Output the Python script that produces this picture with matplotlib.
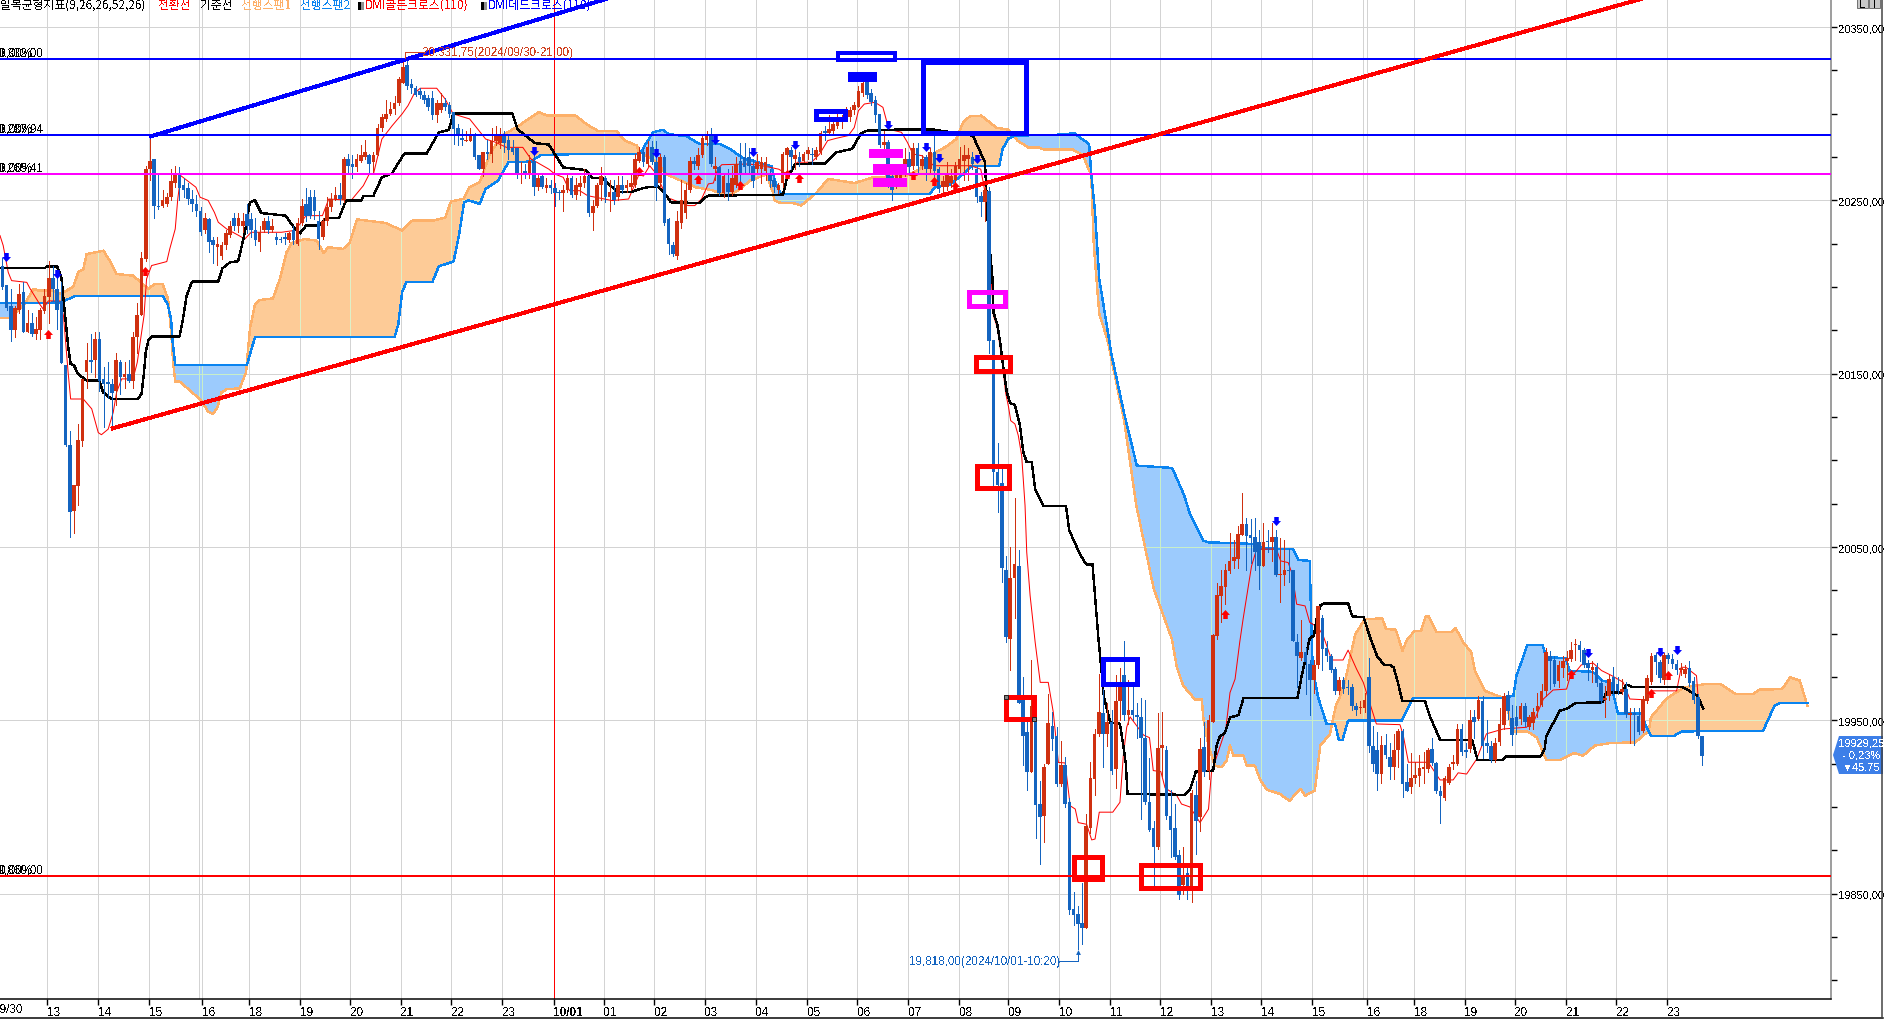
import numpy as np
import matplotlib
matplotlib.use("Agg")
import matplotlib.pyplot as plt
from matplotlib.patches import Rectangle, Polygon
from matplotlib.lines import Line2D
from matplotlib.path import Path
from matplotlib.ticker import FuncFormatter

opens = [20212,20201,20189,20175,20187,20197,20174,20179,20173,20175,
20186,20194,20205,20199,20192,20155,20109,20071,20085,20111,
20151,20158,20158,20170,20147,20145,20144,20140,20157,20148,
20150,20146,20171,20184,20216,20268,20274,20247,20247,20248,
20252,20260,20266,20259,20257,20251,20248,20244,20233,20239,
20227,20223,20218,20224,20230,20240,20235,20235,20242,20239,
20233,20226,20233,20238,20233,20229,20228,20229,20227,20233,
20225,20237,20248,20252,20252,20238,20229,20238,20246,20251,
20253,20250,20274,20271,20269,20273,20275,20276,20272,20276,
20292,20297,20300,20303,20306,20318,20328,20317,20315,20313,
20311,20309,20309,20299,20302,20306,20305,20301,20292,20286,
20284,20284,20288,20276,20268,20278,20277,20284,20283,20288,
20285,20280,20280,20265,20267,20265,20273,20258,20264,20257,
20259,20257,20255,20254,20256,20263,20253,20258,20260,20264,
20243,20247,20259,20263,20252,20255,20252,20259,20257,20258,
20259,20273,20278,20271,20281,20272,20260,20275,20239,20224,
20218,20237,20243,20256,20273,20270,20276,20285,20288,20268,
20269,20254,20260,20255,20259,20273,20275,20275,20270,20268,
20268,20267,20266,20262,20256,20260,20276,20279,20274,20275,
20273,20277,20277,20275,20278,20290,20289,20290,20293,20295,
20297,20298,20302,20304,20312,20322,20312,20308,20300,20282,
20283.5,20264,20262,20263,20266,20274,20270,20280,20270,20275,
20268,20278,20268,20257.6,20258,20260,20262,20268,20273,20274,
20275,20268,20252.6,20249,20255.6,20169.5,20093,20087,20037,19997,
20032,20039,19964,19943,19920,19950,19902,19895,19925,19947,
19941,19913,19924,19903,19841,19838,19833,19830,19888,19916,
19942,19954,19942,19949,19922,19961,19976,19953,19956,19953,
19952,19940,19903,19888,19877,19934,19933,19895,19888,19872,
19855,19862,19852,19907,19894,19934.5,19921,19949,19998.5,20022,
20027,20036,20042,20043,20057,20063,20057,20055.5,20052.7,20039,
20053.5,20053,20055.5,20034,20034,20037,20036.5,19995,19986,19989.5,
19982.5,19973,19982,20009,19991.5,19987,19979.6,19967,19973,19969.5,
19969,19958,19957,19957,19975,19935,19933,19919,19936,19929,
19923,19933,19943.6,19914.3,19911.8,19917,19917.7,19922,19922,19933.5,
19925.4,19909,19905,19914,19925,19925,19945,19933,19933.5,19951.8,
19951,19961.4,19937,19935,19927,19937.7,19947.3,19964.6,19951.4,19951.8,
19950.8,19958.5,19946,19948.5,19955.6,19959,19966.8,19987,19985,19972.5,
19980,19984.5,19985.4,19993.5,19993.5,19990.8,19983,19979.3,19980.6,19971.6,
19962,19964,19974.8,19971,19966.5,19968,19953,19954,19952.7,19944,
19961.4,19972,19987.7,19983.5,19973,19987.7,19985.4,19982.5,19979.3,19977,
19980,19972.5,19963.3,19940.8]

highs = [20217,20201,20199,20189,20202,20203,20187,20185,20183,20188,
20199,20215,20212,20208,20203,20155,20117,20086,20121,20147,
20168,20173,20174,20174,20154,20157,20147,20162,20158,20157,
20158,20174,20191,20220,20270,20287,20274,20266,20256,20254,
20268,20270,20269,20263,20260,20256,20253,20246,20243,20240,
20229,20229,20226,20233,20238,20243,20243,20243,20248,20243,
20240,20235,20240,20241,20239,20231,20229,20231,20232,20235,
20240,20251,20257,20256,20256,20244,20240,20252,20254,20258,
20260,20275,20277,20276,20277,20282,20285,20277,20278,20294,
20300,20308,20307,20310,20321,20332,20331.75,20320,20316,20315,
20313,20311,20313,20308,20312,20309,20307,20301,20294,20291,
20290,20292,20289,20276,20278,20285,20292,20293,20292,20290,
20287,20285,20280,20272,20271,20276,20276,20266,20266,20263,
20262,20260,20256,20259,20265,20264,20263,20264,20268,20265,
20250,20260,20269,20264,20262,20262,20264,20264,20262,20265,
20277,20281,20280,20284,20284,20284,20277,20276,20240,20226,
20244,20262,20260,20275,20275,20280,20288,20290,20292,20275,
20270,20266,20268,20270,20275,20283,20283,20280,20274,20277,
20275,20275,20268,20263,20260,20278,20281,20281,20279,20278,
20278,20281,20280,20281,20290,20293,20299,20298,20300,20299,
20304,20304,20307,20316,20322,20323.5,20314,20310,20300,20290,
20285,20266,20270,20270,20280,20278,20283,20283,20276,20276,
20280,20290,20269,20264,20272,20268,20272,20281,20282,20280,
20278,20270,20255,20258,20258,20169.5,20110,20095,20045,20050,
20078,20048,19975,19950,19985,19952,19915,19925,19965,19955,
19946,19938,19929,19905,19851,19843,19856,19896,19926,19945,
19977,19968,19960,19956,19976,19980,19996,19973,19972,19960,
19963,19962,19928,19892,19954,19955,19935,19910,19902,19875,
19877,19865,19910,19915,19940,19949,19953,20000,20029,20037,
20040,20058,20054,20062,20081,20067,20066,20067,20060,20064,
20060,20064,20060,20055,20054,20049,20037,20000,20008,19992,
19985,19985,20016,20011,19996,19988,19981,19975,19975,19973,
19971,19960,19961,19966,19986,19947,19943,19941,19942,19937,
19942,19945,19945,19925,19931,19926,19930,19932,19934,19940,
19926,19912,19918,19925,19930,19948,19948,19937,19956,19956,
19964,19964,19950,19938,19940,19957,19966,19967,19959,19958,
19960,19960,19953,19957,19966,19971,19992,19990,19987,19984,
19987,19990,19995,19997,19996,19992,19985,19984,19983,19974,
19970,19976,19981,19975,19974,19972,19957,19957,19957,19964,
19976,19989,19989,19985,19989,19989,19988,19985,19983,19982,
19984,19975,19965,19941]

lows = [20199,20187,20169,20171,20185,20174,20174,20172,20170,20170,
20185,20179,20192,20176,20156,20108,20056,20058,20074,20108,
20142,20151,20148,20140,20119,20136,20120,20132,20138,20142,
20145,20142,20162,20184,20215,20262,20240,20245,20246,20247,
20250,20258,20250,20252,20248,20244,20241,20230,20231,20220,
20214,20213,20216,20222,20229,20233,20232,20232,20231,20229,
20224,20221,20232,20231,20232,20225,20226,20225,20226,20225,
20224,20236,20238,20240,20239,20222,20228,20236,20244,20250,
20248,20249,20266,20263,20267,20272,20274,20266,20266,20276,
20290,20296,20299,20300,20305,20318,20314,20312,20310,20309,
20306,20302,20297,20295,20301,20302,20298,20282.5,20282,20282,
20284,20284,20274,20268,20264,20274,20272,20282,20280,20278,
20274,20277,20263,20260,20263,20263,20253,20256,20257,20255,
20254,20247,20251,20244,20255,20252,20251,20253,20258,20241,
20233,20246,20250,20249,20244,20248,20250,20254,20255,20256,
20258,20272,20270,20270,20271,20250,20258,20236,20219,20218,
20216,20234,20240,20255,20268,20268,20275,20282,20270,20262,
20253,20252,20250,20253,20258,20260,20265,20265,20258,20266,
20260,20262,20258,20255,20254,20258,20265,20268,20268,20270,
20272,20274,20271,20274,20277,20285,20288,20289,20292,20292,
20296,20296,20300,20304,20310,20309,20305,20295,20281,20279,
20258,20250,20257,20260,20264,20266,20268,20266,20268,20262,
20266,20263,20255,20255,20256,20258,20258,20266,20262,20262,
20268,20249,20241,20238,20162,20086,20070,20030,19995,19979,
20009,19960,19924,19910,19920,19882,19867,19880,19925,19933,
19912,19912,19900,19838,19832,19818,19821,19830,19885,19907,
19941,19923,19935,19919,19911,19950,19950,19948,19950,19940,
19893,19902,19886,19855,19876,19918,19893,19871,19870,19847,
19850,19847,19845,19873,19886,19918,19916,19949,19997,20007,
20017,20035,20038,20038,20057,20037,20041,20037,20026,20039,
20047,20042,20033,20018,20028,20030,19996,19969,19985,19965,
19953,19966,19980,19979,19984,19978,19965,19965,19966,19965,
19956,19953,19954,19955,19932,19921,19910,19914,19928,19916,
19916,19923,19906,19909,19908,19914,19912,19914,19920,19924,
19908,19891,19904,19913,19922,19924,19930,19929,19932,19940,
19950,19928,19932,19926,19926,19936,19945,19951,19936,19942,
19948,19947,19945,19945,19952,19958,19964,19968,19970,19969,
19975,19973,19984,19985,19984,19981,19973,19972,19970,19960,
19952,19962,19965,19965,19965,19952,19937,19936,19942,19943,
19960,19971,19977,19972,19971,19983,19980,19977,19976,19975,
19970,19960,19940,19924]

closes = [20200,20188,20175,20188,20196,20174,20179,20173,20176,20187,
20195,20205,20199,20187,20156,20109,20070,20086,20112,20147,
20158,20157,20170,20146,20144,20144,20139,20158,20148,20150,
20146,20171,20184,20217,20268,20273,20247,20246,20250,20252,
20261,20266,20257,20256,20251,20248,20244,20232,20240,20226,
20224,20225,20224,20231,20235,20235,20240,20238,20235,20233,
20227,20232,20238,20233,20235,20227,20227,20228,20231,20227,
20237,20247,20241,20241,20244,20228,20238,20246,20251,20253,
20251,20274,20270,20269,20274,20276,20278,20271,20276,20292,
20298,20300,20303,20306,20320,20327,20316,20315,20311,20311,
20308,20304,20299,20306,20306,20304,20300,20291,20287,20285,
20285,20288,20275,20268,20278,20277,20284,20287,20287,20283,
20279,20278,20266,20266,20265,20273,20258,20263,20258,20259,
20257,20254,20254,20256,20263,20253,20259,20260,20264,20243,
20247,20259,20264,20252,20255,20250,20259,20256,20259,20260,
20274,20278,20272,20281,20272,20258,20275,20237,20225,20219,
20238,20250,20256,20273,20271,20276,20286,20288,20271,20270,
20254,20264,20255,20263,20271,20265,20269,20270,20261,20272,
20272,20272,20261,20258,20259,20277,20280,20275,20276,20272,
20277,20279,20276,20279,20289,20289,20291,20294,20295,20297,
20300,20302,20305,20313,20318,20311,20307,20299,20282,20283.5,
20262,20256,20266,20268,20274,20269,20280,20270,20274,20268,
20278,20267,20256.6,20261,20265,20264,20270,20274,20276,20276,
20271,20252,20249,20256,20169,20093,20086,20038,19998,20032,
20040,19960,19941,19920,19958,19901,19894,19923,19948.5,19939,
19913,19924,19902,19840.7,19837.7,19832.5,19830,19889,19916.5,19942,
19954.6,19942,19949,19921,19961,19970,19953,19956,19953,19952,
19940,19903,19887,19877,19934,19936,19895,19887,19871,19849,
19861,19852,19908,19892,19933.5,19920,19950,19999,20022.3,20027.3,
20037,20042,20044,20057.5,20063,20056.5,20055,20047,20039,20053,
20052.7,20055.5,20034,20034.5,20037,20036,19996,19987,19989.5,19983.5,
19973.5,19982,20016,19991,19987,19979,19966.7,19973,19968,19968.5,
19958,19956,19957.5,19962,19935,19925,19919,19936,19930,19923,
19933,19943.6,19913,19909.5,19916.6,19918.5,19922.5,19923,19933,19925.4,
19909,19906.6,19916.6,19923,19926,19945,19931.6,19932,19950,19949,
19961.8,19935,19935,19927,19937,19948,19964,19955.6,19941.8,19947,
19958,19949,19951.8,19954.6,19958,19967,19989.7,19984.5,19971,19982,
19984.5,19985.8,19990.8,19994,19990.8,19982,19980,19980.6,19971.6,19961.4,
19963,19974,19967,19967,19968,19953.7,19954,19953,19943.5,19962.3,
19974.3,19987.3,19983.5,19974.3,19987.7,19985.4,19982.5,19979.3,19980,19979.6,
19971.6,19961.8,19940.8,19929.25]

span2_x = [0.45,15,16.3,18.5,39,40.2,41,41.4,42,59,60.9,94,94.9,95.8,96.8,103,104.5,108,109.4,110.5,111.6,114.2,115.6,118.5,121,126.3,128.7,138.9,152.2,153.8,155.3,157.7,158.9,163.2,166.4,171.1,173.5,176.7,183.4,184.2,185.4,186.1,220.9,222.1,225.6,228.4,231,237.4,238.2,239.6,241.3,253,255,258.7,259.2,260.1,261.1,264,267,270,278.4,281.2,282.6,285.8,287,298.8,299.6,307.1,308.3,311,311.3,311.7,313,315,317,317.9,318.8,320.1,330,332.8,335.5,356.6,359.3,360,361.6,362.6,366.2,367.1,371.7,372.6,378.1,380.4,382.3,384.1,389.6,390.5,391.9,397.4,399.2,418.5,421.2,422.6,429]
span2_y = [20190.8,20191,20192.7,20195,20195,20190,20181.6,20168,20155,20155,20171,20171,20178.7,20197,20203,20203,20212,20214.7,20231.6,20249,20250,20248,20256.6,20261.4,20272,20272.4,20276.2,20276.8,20276.8,20283.5,20289.3,20290.8,20288.3,20287,20282.5,20282.5,20279.7,20274.3,20269.7,20261,20254.7,20253.7,20253.7,20257.6,20258.9,20264.3,20270,20270,20279.7,20285.8,20287.4,20288,20289,20282.5,20265,20243,20204.7,20161,20127,20097,20095.6,20080,20069,20053.6,20052.7,20051.7,20049.2,20048.8,20042.5,20042,20012.3,19979.6,19963.2,19947.9,19947.9,19938.8,19938.8,19949.8,19949.8,19949.8,19962.9,19962.9,19964.2,19975.7,19986.3,19993.6,19993.6,19986.3,19986,19978.6,19978,19972.9,19971.9,19954,19954,19947.9,19941.1,19941.1,19943.6,19944,19958.4,19960,19960]

span1_x = [0.45,2.7,4.5,6.4,8.4,9.5,13.1,14.7,17.8,19,20.2,21,25,26.5,28.1,32,35.6,37.2,39,40.3,41.1,41.5,42,43.1,48.2,49.8,51,52,53,54.2,57.3,58.8,59.7,60.9,62.1,65.2,66.8,68.4,69.6,72.7,75.5,77.2,78.3,81.8,83.4,85.1,91.9,95.8,98.2,103,106,107.4,110.3,111.8,114.2,116.6,119.5,123.4,128.2,130.2,136.9,139.8,142.3,146.6,148.6,151.5,151.8,156.1,158.5,161.9,165.3,169.1,173,175.4,178.3,182.2,183.7,184.1,185.6,188.5,190.4,194,196.8,203.1,207.5,215.4,218.5,221.7,224.9,227.2,228.8,230.4,233.1,236.7,239.5,241.7,244.2,246.6,248,254.8,257.2,259.2,259.8,261.1,263,267,269.8,274,278.3,279.5,281,283.8,285.4,285.8,287,288.5,290.1,291.3,292.1,292.9,295.3,296,298,299.2,300.8,303.9,306.2,308.8,309.9,312.2,313.5,315.8,316.5,317.2,318.1,319.5,321.8,324.1,328.2,329.1,331.4,333,334.1,336,337.4,338.5,339.2,341,344.7,345.6,347.4,349.3,350.2,352.5,356.6,358,358.9,362.6,364.8,367.1,370.3,373.6,375.8,378.6,382.3,388.2,391.4,391.9,394.2,395.5,399.7,404.7,408.4,412,416.2,417.6,423,424.9,427.2,429]
span1_y = [20182,20182,20186,20190.8,20199,20198,20198,20196,20200,20208.5,20210.4,20219,20221,20215,20207.5,20206.6,20199,20201.8,20201.8,20193,20172,20156.6,20145.4,20145.4,20134.5,20128,20126.8,20130.6,20139.3,20141,20141.6,20150.8,20175.8,20190,20192.5,20193.5,20204.7,20220,20225.4,20227.7,20226.8,20219.7,20223,20222,20225.8,20239,20237,20232.6,20238.3,20238.3,20240,20249.5,20250.8,20257.6,20260.4,20276.8,20287.4,20293,20301,20298.9,20298.9,20293.5,20290,20290,20284.5,20281.6,20278.7,20272,20265,20261.4,20257.6,20256,20252.7,20255.6,20261.4,20265,20254.7,20249.9,20248.5,20248.5,20247,20254.3,20262.4,20260,20263.3,20264.3,20268,20276.8,20281.2,20285.4,20295,20298.5,20298.9,20292,20290.8,20284.5,20280.6,20280.6,20279.3,20279.3,20276.2,20264.3,20224,20184.5,20170,20123,20075,20026,19997,19980.6,19970,19962,19962,19950.7,19935.4,19923.8,19923,19926.7,19935.4,19929.6,19929.6,19924,19923.8,19916,19910,19907.5,19903.6,19910.4,19906.5,19909.4,19935.4,19942,19950.7,19958.4,19963.2,19973.8,19999.8,20008.4,20008.8,20002.7,20002.3,19990.2,19996.9,20001.7,20001.7,20010,20010,20001,20001,20003.2,19995,19989.2,19978.6,19967,19963.2,19956.5,19943.6,19943.6,19940.2,19927.1,19927.1,19931.1,19929.6,19935.4,19936.9,19937.3,19944,19951.7,19958.4,19962.3,19969,19970.9,19970.9,19965.2,19965.2,19967.7,19968,19974.8,19972.9,19958.4]

kijun_x = [0.45,11.1,11.5,14,15,15.9,16.6,17.2,18,19,21,24,24.9,26.9,33.2,34,34.6,35,35.6,36.4,43,43.7,44.7,45.9,46.3,52.2,53.2,55,56.9,57.7,58.5,59.7,60.9,62.4,68.2,70.1,71.6,73,76,77.9,80.8,82.5,86.1,86.6,89,91,93.4,96.3,101.6,104.5,106.9,107.9,121.9,123.2,127.3,130.6,134,139.4,140.8,143.2,144.2,147.1,150,152.2,153.8,156.5,158.5,159.5,166.2,168.2,186.1,187,189,196.2,198.7,202.5,204.5,205.9,212.7,221.9,231.1,234,234.7,235.4,235.8,236,236.9,237.6,238.5,239.2,240,241.1,242.3,243.1,243.9,245.1,245.9,247.9,253.2,254,256.5,258,259.5,260.9,261.9,262.2,263.7,266,266.8,267.4,267.8,281.4,282.6,284,288.1,288.9,289.7,290.9,292.1,294.1,295.3,308.1,309.1,309.9,311,312,312.6,313.6,314.4,320.1,321.1,323.8,325.3,327.1,328.8,330,330.9,331.9,332.95,338.3,339.6,341.9,349.5,350.8,356.6,357.5,365.8,366.7,367.1,370.3,372.2,374,380.4,381.3,385,386.1,387.3,399.2,401,402.9,404.3]
kijun_y = [20211,20211,20211.8,20211.8,20205.6,20183.5,20166,20155.6,20154.7,20149.8,20146,20146,20139.3,20135.4,20135.4,20138.3,20150.8,20162.3,20169,20171.4,20171.4,20179.7,20195,20202.7,20203.3,20203.3,20210.8,20214.3,20214.9,20223,20231.6,20249,20250,20242.7,20241.2,20234.5,20231,20235.4,20235.4,20239.7,20239.7,20250,20250,20252.4,20252.7,20263.3,20265.6,20277,20277,20289.3,20290.6,20300.2,20300.2,20291,20283,20282.2,20269,20267.5,20263,20263,20260.5,20254.7,20254.7,20256.6,20257.5,20258,20252.7,20248.9,20248.5,20252.7,20253.3,20262.4,20271,20271.4,20277.7,20279.7,20288.3,20290.2,20290.8,20290.8,20287.4,20272,20235.4,20215,20204.6,20185.4,20178.7,20168,20150.8,20139,20133,20132,20120,20104.6,20098.9,20098.9,20083.5,20073.5,20073.5,20059.5,20046,20040,20040,19997,19972,19963.2,19948.8,19948,19935.4,19924.8,19907.5,19907,19910,19920.4,19921,19935.4,19940.7,19942.7,19951.7,19953,19962.9,19962.9,19975.7,19984.4,19997.5,19998.8,20008.4,20016.5,20017.5,20017.5,20010,20009.4,19997.9,19986.3,19981.9,19981.9,19980.6,19971.9,19961.3,19961.3,19951.7,19938.8,19938.8,19927,19927,19929.2,19929.2,19933.4,19941,19955.5,19957,19960,19960.4,19966,19966,19970.6,19969.4,19969.4,19967,19964.2,19956.9]

tenkan_x = [0.45,1.2,2.4,3.2,6.8,7.6,9.9,10.7,11.9,14.7,15.5,16.6,17.2,20.2,22.2,23.75,24.5,26.1,27.3,28.1,29.3,32,33,34.6,35.2,36.4,40,40.7,42,42.6,43.3,46.9,47.9,49.8,51.3,52.2,54.2,57.1,58.5,60,67.2,70.1,71.6,73,76.9,78.4,83.7,86.6,88,89,91,93.4,95.8,97.2,98.7,100.1,104,106,107.9,111.8,115.6,118,120.5,124.4,126.3,130.6,132,134,135.5,137.9,139.8,145.6,149.5,152,153,154.5,156.1,158.5,163.6,165.2,166.8,168.4,169.6,170.6,171.6,177.9,181.2,185.1,186.6,188.5,189.5,192.9,194.8,196.7,198.7,201.6,203,204,205.4,207.9,209.8,211.2,214.2,215.6,216.9,219,221.9,230.6,233,234.3,234.7,236,236.9,238,238.9,239.6,240.1,241.1,241.9,242.7,243.5,243.9,244.7,245.9,247.1,249,250.2,251.4,253,254.2,255.4,256.1,258.1,259.3,260.1,261.1,264.3,266,266.8,267.6,268.4,271.6,273,273.9,275.7,276.7,279.5,280.6,282.6,285,287,287.7,291.1,292.1,293.3,294.4,295.2,296.4,297.2,298.4,303.1,304.1,305.9,306.7,307.5,307.9,309.9,311,313,314.2,316.2,318.9,320.1,322.1,323.7,325.7,326.8,332.4,333.2,334.4,339.1,341.9,345,346.2,348.2,350.6,352.9,356.9,362.4,364.4,366.4,368.7,371.9,372.7,374.3,375.4,378.2,380.2,382.6,385.3,386.9,390.8,392,398,399.1,400.2,402.7,403.1]
tenkan_y = [20229.7,20224,20208.5,20203.7,20202.7,20199,20190,20187.3,20192,20192,20183.5,20150.8,20135.4,20135.4,20129.7,20116,20114.8,20118,20127.7,20139.3,20147,20147,20156.6,20183.5,20204.7,20212.4,20214.7,20222,20233.5,20250.8,20264.3,20257.6,20251.8,20250,20243,20237.4,20233.5,20229.7,20227.7,20231.6,20231.6,20232.6,20236.4,20241.2,20241.2,20250.8,20250,20258.5,20265.2,20265.2,20285.4,20293,20299.9,20304.7,20311.8,20314.7,20314.7,20308.5,20299.9,20297,20285.4,20283.5,20280.6,20280.6,20274,20268,20265.2,20263.3,20255.6,20255.6,20252.7,20249.9,20250.8,20265.2,20264,20270,20265.2,20251.8,20247,20247,20250.8,20259.5,20260,20268,20270.6,20271,20270,20268,20265.8,20268,20272,20272,20276.8,20284.5,20285.8,20287.4,20292,20301.8,20305.6,20306.6,20303.7,20291,20289.3,20283.5,20276.8,20275.8,20270,20270,20268,20250.8,20235.4,20183.5,20176.8,20158.5,20139,20130.6,20122.9,20121,20114.3,20102.7,20073.9,20047,20022,19995,19971.9,19971.9,19954.6,19925.7,19925.4,19900.7,19898.8,19891,19890,19881,19881.5,19897,19897,19902.7,19929.6,19946,19952,19941.5,19940,19921,19920.4,19911,19906.5,19901.7,19900,19891,19898.8,19920,19945,19966,19973.8,19995,20008.4,20026.7,20039,20048.8,20048.8,20042,20041,20035.4,20023.8,20017,20016,20006.5,20003.6,19998.8,19984.8,19984.8,19990.5,19979.6,19971.9,19956.5,19947.9,19947.5,19941,19925.8,19925.8,19915.6,19915.6,19919.7,19919,19927.7,19942.2,19945,19946,19950.8,19962.3,19967.5,19968,19974.8,19978.7,19982,19983,19978.7,19975.8,19972,19962.3,19961.8,19967,19967,19980.6,19980.6,19975.8,19963.3]

dead_x = [1.9,14,127,156,170,179,189,211,220,223,232,303,377,394,398]
dead_y = [20217.3,20207.5,20278.5,20277.3,20284.8,20277.9,20282,20293.5,20280.8,20274.5,20273.9,20065,19988.8,19989.4,19990.6]
gold_x = [11.9,34.8,152,166,175.8,187,190,217,222,227,291,373,392,396]
gold_y = [20172.9,20209.3,20267,20262.3,20258.9,20265.2,20262.9,20264.6,20261.2,20258.3,20011.3,19976.7,19965.8,19976.2]

level_blue = [20331.6, 20287.7]
level_magenta = 20265.2
level_red = 19860.3
blue_trend_x = [36.3, 144.1]
blue_trend_y = [20287, 20366.2]
red_trend_x = [27.2, 389.5]
red_trend_y = [20118.5, 20366.2]

blue_boxes = [(199.1,212.7,20335,20331,4),(202.1,207.8,20323.2,20319.8,5),(194,200.9,20301.3,20296.7,5),
              (219.2,243.8,20330.1,20288.6,5),(262,270,19985.4,19971,4.5)]
magenta_boxes = [(230.2,238.7,20197.4,20188.8,5)]
magenta_bars = [(206.5,214.6,20279.7,20274.5),(207.4,215.5,20271,20265.2),(207.4,215.5,20262.9,20257.7)]
red_boxes = [(231.9,239.9,20159.9,20151.8,5),(232,239.8,20097,20084.3,5),(239.1,245.7,19963.2,19951,5),
             (255,261.8,19870.9,19858.7,5),(271.1,284.9,19866.8,19853.5,5)]

hour_ticks = [11.5,23.6,35.7,48.35,59.6,71.5,83.5,95.5,107.4,119.5,131.7,143.6,155.6,167.6,179.7,191.8,203.7,215.8,227.9,239.5,251.6,263.7,275.5,287.6,299.5,311.6,324.6,335.7,347.7,359.6,371.8,383.7,395.8]
hour_labels = ['13','14','15','16','18','19','20','21','22','23','10/01','01','02','03','04','05','06','07','08','09','10','11','12','13','14','15','16','18','19','20','21','22','23']
extra_grid = [47.6, 323.6]
price_major = [19850,19950,20050,20150,20250,20350]
price_minor = [19800,19825,19875,19900,19925,19975,20000,20025,20075,20100,20125,20175,20200,20225,20275,20300,20325]

W, H = 1885, 1020
plt.rcParams['text.antialiased'] = False
NARROW = ['Liberation Sans Narrow', 'Liberation Sans', 'DejaVu Sans']
KR = ['Noto Sans CJK KR', 'DejaVu Sans']
px = 0.72
fig = plt.figure(figsize=(W/100, H/100), dpi=100, facecolor='white')
ax = fig.add_axes([0, 20/H, 1831/W, 1000/H])
ax.set_xlim(0.45, 434.6)
ax.set_ylim(19789.2, 20366.2)
ax.set_axisbelow(True)

# grid
GRID = '#D3D3D3'
ax.set_xticks(hour_ticks)
ax.set_xticklabels(hour_labels, family=NARROW, fontsize=8.5)
for lb, t in zip(ax.get_xticklabels(), hour_labels):
    lb.set_ha('left')
    if t == '10/01':
        lb.set_fontweight('bold')
ax.set_yticks(price_major)
ax.set_yticks(price_minor, minor=True)
ax.yaxis.tick_right()
ax.yaxis.set_major_formatter(FuncFormatter(lambda v, p: f"{int(v)},00"))
ax.tick_params(axis='y', which='both', length=4, width=1, colors='black', pad=1)
ax.tick_params(axis='x', length=4, width=1, pad=1)
for lb in ax.get_yticklabels():
    lb.set_family(NARROW); lb.set_fontsize(8)
ax.grid(True, which='major', color=GRID, lw=1*px, antialiased=False)
for x in extra_grid:
    ax.axvline(x, color=GRID, lw=1*px, zorder=0.5, antialiased=False)
for s in ['top', 'left']:
    ax.spines[s].set_visible(False)
ax.spines['right'].set_color('#808080'); ax.spines['right'].set_linewidth(1.5*px)
ax.spines['bottom'].set_color('black'); ax.spines['bottom'].set_linewidth(1.5*px)

# cloud
gx = np.union1d(span1_x, span2_x)
s1 = np.interp(gx, span1_x, span1_y)
s2 = np.interp(gx, span2_x, span2_y)
c1 = ax.fill_between(gx, s1, s2, where=s1 >= s2, interpolate=True, color='#FDCB97', lw=0, zorder=1)
c2 = ax.fill_between(gx, s1, s2, where=s1 < s2, interpolate=True, color='#9CCBFD', lw=0, zorder=1)
for coll, col in ((c1, '#DDF0C8'), (c2, '#C8EEC8')):
    clip = Path.make_compound_path(*coll.get_paths())
    for x in hour_ticks + extra_grid:
        l = ax.axvline(x, color=col, lw=1*px, zorder=1.2)
        l.set_clip_path(clip, ax.transData)
    for y in price_major:
        l = ax.axhline(y, color=col, lw=1*px, zorder=1.2)
        l.set_clip_path(clip, ax.transData)

ax.plot(span1_x, span1_y, color='#FDB069', lw=1.0, zorder=2, antialiased=False)
ax.plot(span2_x, span2_y, color='#0A84F0', lw=1.0, zorder=2.1, antialiased=False)
ax.plot(tenkan_x, tenkan_y, color='#FF0000', lw=0.72, zorder=3, antialiased=True)
ax.plot(kijun_x, kijun_y, color='black', lw=1.0, zorder=3.1, antialiased=False)

# candles
o, h, l_, c = map(np.array, (opens, highs, lows, closes))
idx = np.arange(1, len(o)+1)
up = c >= o
RED, BLUE = '#CF3010', '#1464C0'
for mask, col in ((up, RED), (~up, BLUE)):
    ax.vlines(idx[mask], l_[mask], h[mask], color=col, lw=1*px, zorder=4, antialiased=False)
    bottom = np.minimum(o, c)[mask]
    height = np.maximum(np.abs(c-o)[mask], 0.6)
    ax.bar(idx[mask], height, bottom=bottom, width=0.85, color=col, lw=0, zorder=4.1, antialiased=False)

# signals
up_arrow = [(-0.25,-0.5),(0.25,-0.5),(0.25,-0.05),(0.5,-0.05),(0,0.5),(-0.5,-0.05),(-0.25,-0.05)]
dn_arrow = [(x,-y) for x,y in up_arrow]
ax.plot(gold_x, gold_y, ls='', marker=up_arrow, ms=9*px, color='#FF0000', mew=0, zorder=5)
ax.plot(dead_x, dead_y, ls='', marker=dn_arrow, ms=9*px, color='#0000FF', mew=0, zorder=5)

# levels and trend lines
for y in level_blue:
    ax.axhline(y, color='#0000FF', lw=2*px, zorder=6, antialiased=False)
ax.axhline(level_magenta, color='#FF00FF', lw=2*px, zorder=6, antialiased=False)
ax.axhline(level_red, color='#FF0000', lw=2*px, zorder=6, antialiased=False)
ax.axvline(hour_ticks[10], color='#FF0000', lw=1*px, zorder=1.5, antialiased=False)
ax.plot(blue_trend_x, blue_trend_y, color='#0000FF', lw=3*px, zorder=6, antialiased=False)
ax.plot(red_trend_x, red_trend_y, color='#FF0000', lw=3*px, zorder=6, antialiased=False)

def box(b, col):
    x0, x1, y0, y1, w = b
    ax.add_patch(Rectangle((x0, y1), x1-x0, y0-y1, fill=False, ec=col, lw=w*px, zorder=7, joinstyle='miter', antialiased=False))
for b in blue_boxes: box(b, '#0000FF')
for b in magenta_boxes: box(b, '#FF00FF')
for b in red_boxes: box(b, '#FF0000')
for x0, x1, y0, y1 in magenta_bars:
    ax.add_patch(Rectangle((x0, y1), x1-x0, y0-y1, fc='#FF00FF', ec='none', zorder=7, antialiased=False))
ax.plot([239.1, 245.7], [19963.2, 19951], ls='', marker='s', ms=5*px, mfc='#808080', mec='#202020', mew=0.7, zorder=8)

# peak / trough notes
hi_col = '#D04020'; lo_col = '#1464C0'
ax.plot([96.5, 96.5, 101], [20332.3, 20335.6, 20335.6], color=hi_col, lw=1*px, zorder=6.5, antialiased=False)
ax.text(100.5, 20335.6, '20,331,75(2024/09/30-21:00)', family=NARROW, fontsize=8.4, color=hi_col, va='center', ha='left', zorder=6.5)
ax.plot([251.8, 256, 256], [19811, 19811, 19816.5], color=lo_col, lw=1*px, zorder=6.5, antialiased=False)
ax.plot([256], [19816.5], ls='', marker='^', ms=3.5, color=lo_col, mew=0)
ax.text(251.8, 19811, '19,818,00(2024/10/01-10:20)', family=NARROW, fontsize=8.4, color=lo_col, va='center', ha='right', zorder=6.5)

# left level labels (two overlapping texts each, as on the screen)
for val, pct, yy in (('20,332,00', '0,00%', 20335.6), ('20,287,94', '0,00%', 20291.7), ('20,265,41', '0,00%', 20269.2), ('19,860,00', '0,00%', 19864.2)):
    ax.text(10.7, yy, val, family=NARROW, fontsize=8.4, ha='right', va='center', color='black', zorder=7)
    ax.text(0.45, yy, pct, family=NARROW, fontsize=8.4, ha='left', va='center', color='black', zorder=7)

# legend strip
lg = [('일목균형지표(9,26,26,52,26)', 0, 'black'), ('전환선', 158, '#FF0000'), ('기준선', 200, 'black'),
      ('선행스팬1', 241, '#FDB069'), ('선행스팬2', 300, '#0A84F0'),
      ('DMI골든크로스(110)', 365, '#FF0000'), ('DMI데드크로스(110)', 488, '#0000FF')]
for t, x, col in lg:
    fig.text(x/W, 1-5.5/H, t, family=KR, fontsize=8.5, color=col, ha='left', va='center')
for x in (358, 481):
    fig.add_artist(Rectangle((x/W, 1-11/H), 3/W, 8/H, fc='black', ec='none', transform=fig.transFigure))
    fig.add_artist(Rectangle(((x+3)/W, 1-11/H), 3/W, 8/H, fc='#909090', ec='none', transform=fig.transFigure))

# chrome
fig.text(-6/W, 1-1010/H, '09/30', family=NARROW, fontsize=8.5, ha='left', va='center')
fig.add_artist(Line2D([0, 1883/W], [1-1019/H]*2, color='black', lw=1.5*px, transform=fig.transFigure))
fig.add_artist(Line2D([1882/W]*2, [0, 1], color='#404040', lw=1.5*px, transform=fig.transFigure))
for x, t in ((1857, 'L'), (1869, 'I')):
    fig.add_artist(Rectangle((x/W, 1-9/H), 11/W, 9/H, fc='#C8C8C8', ec='#707070', lw=0.7, transform=fig.transFigure))
    fig.text((x+5.5)/W, 1-4.5/H, t, family=NARROW, fontsize=8, ha='center', va='center', fontweight='bold')

# last price tag
tag = [(1833,756),(1839,737),(1883,737),(1883,775),(1839,775)]
fig.add_artist(Polygon([(a/W, 1-b/H) for a, b in tag], closed=True, fc='#3D7FE8', ec='none', transform=fig.transFigure))
for t, y in (('19929,25', 744), ('- 0,23%', 756), ('▼45,75', 768)):
    fig.text(1861/W, 1-y/H, t, family=NARROW, fontsize=8, color='white', ha='center', va='center')

fig.savefig('out.png', dpi=100)
